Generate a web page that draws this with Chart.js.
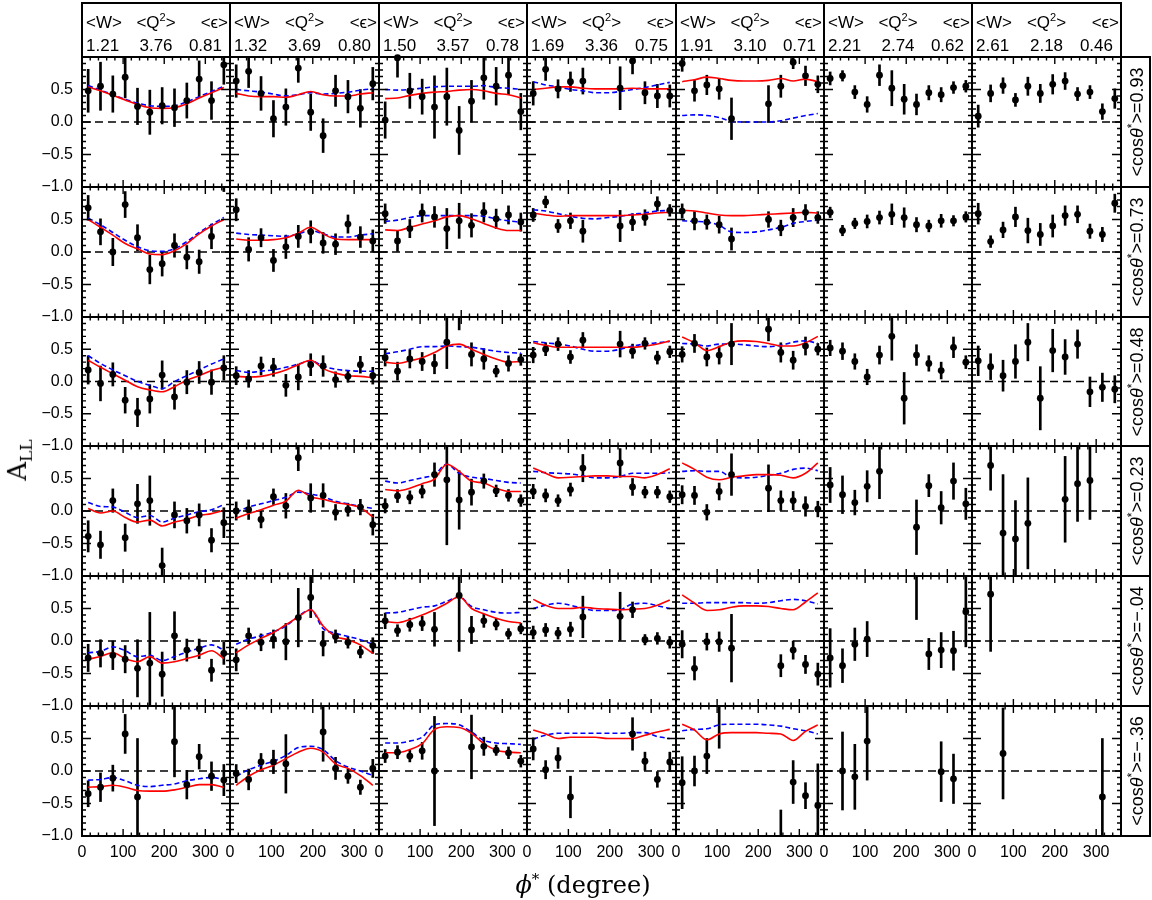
<!DOCTYPE html>
<html>
<head>
<meta charset="utf-8">
<script src="https://cdn.jsdelivr.net/npm/chart.js@4.4.0/dist/chart.umd.min.js"></script>
<style>
body { margin: 0; background: #fff; width: 1152px; height: 900px; position: relative; overflow: hidden;
       font-family: "Liberation Sans", Arial, sans-serif; color: #000; }
canvas { position: absolute; }
.hd { position: absolute; top: 2px; height: 56px; box-sizing: border-box; border: 2px solid #000; font-size: 17px; }
.hd > span { position: absolute; line-height: 18px; white-space: nowrap; }
.t1 { top: 10px; } .t2 { top: 33px; }
.l { left: 3px; } .m { left: 50%; transform: translateX(-50%); } .r { right: 1px; } .t2.r { right: 7px; }
.sq { position: relative; font-size: 11px; top: -7px; }
.rc { position: absolute; left: 1120px; width: 31px; box-sizing: border-box; border: 2px solid #000; }
.rt { position: absolute; left: 50%; top: 50%; transform: translate(-50%, -50%) rotate(-90deg); white-space: nowrap; font-size: 18px; }
.rt sup { font-size: 12px; }
.ttl { position: absolute; white-space: nowrap; font-family: "DejaVu Serif", "Liberation Serif", serif; font-size: 24px; }
</style>
</head>
<body>
<script>
var N = null;
var phiBins = [15, 45, 75, 105, 135, 165, 195, 225, 255, 285, 315, 345];
var meanW = ['1.21', '1.32', '1.50', '1.69', '1.91', '2.21', '2.61'];
var meanQ2 = ['3.76', '3.69', '3.57', '3.36', '3.10', '2.74', '2.18'];
var meanEps = ['0.81', '0.80', '0.78', '0.75', '0.71', '0.62', '0.46'];
var cosTheta = ['0.93', '0.73', '0.48', '0.23', '\u2212.04', '\u2212.36'];
var phiTicks = [0, 100, 200, 300];
var allTicks = [-1, -0.5, 0, 0.5, 1];

// <cos theta*> = 0.93
var asym093 = [
    [0.48, 0.55, 0.43, 0.69, 0.24, 0.15, 0.25, 0.22, 0.33, 0.66, 0.33, 0.88],
    [0.63, 0.78, 0.44, 0.05, 0.23, 0.83, 0.15, -0.21, 0.48, 0.39, 0.21, 0.59],
    [0.03, 0.99, 0.48, 0.39, 0.23, 0.39, -0.13, 0.32, 0.68, 0.55, 0.72, 0.16],
    [0.44, 0.81, 0.51, 0.62, 0.63, N, N, 0.52, 0.94, 0.45, 0.40, 0.40],
    [0.90, 0.48, 0.57, 0.51, 0.05, N, N, 0.28, 0.55, 0.92, 0.71, 0.58],
    [0.67, 0.71, 0.46, 0.27, 0.72, 0.52, 0.35, 0.27, 0.45, 0.42, 0.53, 0.55],
    [0.09, 0.44, 0.56, 0.34, 0.55, 0.44, 0.58, 0.63, 0.43, 0.46, 0.16, 0.36]
];
var err093 = [
    [0.33, 0.37, 0.28, 0.32, 0.28, 0.34, 0.28, 0.29, 0.27, 0.28, 0.29, 0.30],
    [0.25, 0.25, 0.26, 0.28, 0.28, 0.22, 0.28, 0.26, 0.24, 0.25, 0.29, 0.25],
    [0.28, 0.30, 0.27, 0.27, 0.48, 0.44, 0.37, 0.32, 0.33, 0.29, 0.30, 0.28],
    [0.18, 0.17, 0.14, 0.15, 0.20, N, N, 0.33, 0.20, 0.17, 0.18, 0.17],
    [0.12, 0.16, 0.15, 0.16, 0.32, N, N, 0.28, 0.17, 0.10, 0.15, 0.13],
    [0.10, 0.08, 0.10, 0.12, 0.16, 0.27, 0.23, 0.16, 0.11, 0.11, 0.09, 0.09],
    [0.17, 0.13, 0.12, 0.10, 0.14, 0.14, 0.15, 0.13, 0.10, 0.10, 0.12, 0.15]
];
var red093 = [
    [0.54, 0.48, 0.41, 0.34, 0.27, 0.22, 0.21, 0.22, 0.28, 0.37, 0.45, 0.53],
    [0.44, 0.40, 0.39, 0.39, 0.38, 0.42, 0.47, 0.42, 0.40, 0.40, 0.43, 0.45],
    [0.36, 0.37, 0.41, 0.44, 0.46, 0.47, 0.49, 0.50, 0.48, 0.44, 0.42, 0.37],
    [0.50, 0.52, 0.54, 0.54, 0.52, 0.51, 0.51, 0.51, 0.52, 0.51, 0.51, 0.51],
    [0.62, 0.65, 0.69, 0.67, 0.64, 0.63, 0.63, 0.64, 0.67, 0.63, 0.66, 0.62]
];
var blue093 = [
    [0.56, 0.49, 0.42, 0.35, 0.29, 0.25, 0.24, 0.25, 0.31, 0.39, 0.47, 0.55],
    [0.50, 0.48, 0.46, 0.43, 0.40, 0.42, 0.45, 0.43, 0.44, 0.46, 0.49, 0.51],
    [0.50, 0.49, 0.50, 0.52, 0.54, 0.55, 0.55, 0.55, 0.56, 0.53, 0.52, 0.50],
    [0.62, 0.57, 0.54, 0.50, 0.48, 0.45, 0.45, 0.47, 0.50, 0.53, 0.57, 0.61],
    [0.10, 0.11, 0.10, 0.07, 0.01, 0.00, 0.00, 0.00, 0.02, 0.06, 0.10, 0.13]
];

// <cos theta*> = 0.73
var asym073 = [
    [0.68, 0.31, 0.00, 0.73, 0.22, -0.27, -0.18, 0.10, -0.08, -0.15, 0.24, 1.15],
    [0.65, 0.04, 0.22, -0.13, 0.08, 0.24, 0.31, 0.14, 0.12, 0.43, 0.23, 0.17],
    [0.59, 0.17, 0.36, 0.60, 0.54, 0.36, 0.48, 0.41, 0.61, 0.51, 0.57, 0.46],
    [0.57, 0.77, 0.40, 0.48, 0.32, N, N, 0.40, 0.46, 0.53, 0.74, 0.64],
    [0.63, 0.48, 0.46, 0.42, 0.20, N, N, 0.50, 0.37, 0.53, 0.61, 0.53],
    [0.61, 0.33, 0.44, 0.47, 0.53, 0.58, 0.53, 0.42, 0.40, 0.48, 0.48, 0.54],
    [0.59, 0.16, 0.34, 0.54, 0.33, 0.27, 0.40, 0.56, 0.58, 0.32, 0.27, 0.75]
];
var err073 = [
    [0.19, 0.20, 0.21, 0.20, 0.20, 0.22, 0.19, 0.18, 0.18, 0.18, 0.19, 0.22],
    [0.17, 0.18, 0.14, 0.17, 0.18, 0.17, 0.17, 0.16, 0.16, 0.14, 0.16, 0.17],
    [0.15, 0.16, 0.14, 0.14, 0.16, 0.31, 0.27, 0.18, 0.15, 0.15, 0.14, 0.14],
    [0.10, 0.09, 0.10, 0.12, 0.17, N, N, 0.24, 0.13, 0.12, 0.11, 0.09],
    [0.11, 0.14, 0.11, 0.13, 0.17, N, N, 0.12, 0.12, 0.14, 0.12, 0.09],
    [0.08, 0.08, 0.08, 0.10, 0.10, 0.16, 0.15, 0.11, 0.09, 0.10, 0.08, 0.08],
    [0.16, 0.09, 0.12, 0.15, 0.19, 0.17, 0.17, 0.15, 0.13, 0.11, 0.11, 0.14]
];
var red073 = [
    [0.50, 0.38, 0.26, 0.13, 0.05, -0.03, -0.04, 0.02, 0.13, 0.28, 0.40, 0.50],
    [0.20, 0.18, 0.18, 0.19, 0.22, 0.29, 0.38, 0.28, 0.20, 0.19, 0.19, 0.19],
    [0.34, 0.33, 0.38, 0.43, 0.48, 0.54, 0.56, 0.51, 0.44, 0.37, 0.33, 0.33],
    [0.60, 0.57, 0.55, 0.56, 0.56, 0.56, 0.56, 0.56, 0.57, 0.58, 0.60, 0.61],
    [0.64, 0.63, 0.60, 0.57, 0.56, 0.56, 0.57, 0.58, 0.59, 0.60, 0.61, 0.60]
];
var blue073 = [
    [0.52, 0.42, 0.30, 0.18, 0.08, 0.02, 0.01, 0.05, 0.16, 0.30, 0.42, 0.53],
    [0.29, 0.27, 0.26, 0.25, 0.24, 0.28, 0.33, 0.28, 0.23, 0.23, 0.26, 0.28],
    [0.47, 0.49, 0.53, 0.56, 0.56, 0.56, 0.56, 0.56, 0.55, 0.51, 0.48, 0.46],
    [0.65, 0.63, 0.59, 0.55, 0.52, 0.51, 0.53, 0.55, 0.58, 0.60, 0.63, 0.64],
    [0.48, 0.47, 0.46, 0.41, 0.31, 0.30, 0.31, 0.34, 0.38, 0.44, 0.47, 0.49]
];

// <cos theta*> = 0.48
var asym048 = [
    [0.18, -0.03, 0.11, -0.29, -0.48, -0.27, 0.10, -0.24, -0.01, 0.14, -0.01, 0.21],
    [0.09, 0.04, 0.24, 0.22, -0.06, 0.07, 0.26, 0.24, 0.03, 0.08, 0.26, 0.09],
    [0.37, 0.16, 0.35, 0.31, 0.27, 0.61, 1.10, 0.42, 0.35, 0.16, 0.28, 0.34],
    [0.41, 0.50, 0.58, 0.38, 0.64, N, N, 0.58, 0.47, 0.59, 0.37, 0.46],
    [0.42, 0.59, 0.38, 0.41, 0.58, N, N, 0.81, 0.45, 0.33, 0.55, 0.50],
    [0.52, 0.47, 0.31, 0.07, 0.41, 0.70, -0.26, 0.41, 0.28, 0.17, 0.53, 0.30],
    [0.32, 0.23, 0.09, 0.31, 0.61, -0.26, 0.48, 0.38, 0.58, -0.16, -0.09, -0.12]
];
var err048 = [
    [0.22, 0.27, 0.18, 0.20, 0.22, 0.22, 0.22, 0.19, 0.18, 0.17, 0.19, 0.19],
    [0.14, 0.13, 0.14, 0.14, 0.17, 0.20, 0.17, 0.16, 0.12, 0.09, 0.13, 0.13],
    [0.13, 0.14, 0.14, 0.14, 0.15, 0.41, 0.30, 0.18, 0.16, 0.09, 0.12, 0.09],
    [0.12, 0.10, 0.10, 0.10, 0.12, N, N, 0.20, 0.11, 0.09, 0.10, 0.09],
    [0.12, 0.14, 0.14, 0.14, 0.32, N, N, 0.18, 0.15, 0.14, 0.14, 0.09],
    [0.12, 0.13, 0.12, 0.12, 0.14, 0.37, 0.40, 0.16, 0.12, 0.13, 0.16, 0.10],
    [0.23, 0.20, 0.24, 0.26, 0.29, 0.49, 0.33, 0.27, 0.22, 0.23, 0.22, 0.21]
];
var red048 = [
    [0.33, 0.22, 0.12, 0.02, -0.08, -0.13, -0.16, -0.08, 0.02, 0.09, 0.17, 0.22],
    [0.08, 0.07, 0.08, 0.12, 0.18, 0.26, 0.33, 0.20, 0.13, 0.09, 0.08, 0.06],
    [0.30, 0.28, 0.32, 0.37, 0.45, 0.55, 0.58, 0.50, 0.42, 0.35, 0.30, 0.31],
    [0.60, 0.56, 0.53, 0.53, 0.53, 0.53, 0.53, 0.53, 0.53, 0.55, 0.58, 0.63],
    [0.69, 0.60, 0.48, 0.54, 0.61, 0.63, 0.62, 0.59, 0.55, 0.55, 0.60, 0.70]
];
var blue048 = [
    [0.40, 0.28, 0.18, 0.09, 0.00, -0.06, -0.11, 0.00, 0.09, 0.18, 0.27, 0.35],
    [0.17, 0.14, 0.16, 0.18, 0.22, 0.27, 0.32, 0.24, 0.19, 0.17, 0.16, 0.16],
    [0.43, 0.46, 0.50, 0.54, 0.54, 0.55, 0.54, 0.53, 0.50, 0.47, 0.45, 0.44],
    [0.62, 0.60, 0.58, 0.55, 0.50, 0.47, 0.47, 0.50, 0.55, 0.58, 0.60, 0.62],
    [0.59, 0.58, 0.55, 0.58, 0.58, 0.57, 0.55, 0.54, 0.56, 0.61, 0.63, 0.59]
];

// <cos theta*> = 0.23
var asym023 = [
    [-0.39, -0.52, 0.16, -0.41, 0.11, 0.16, -0.84, -0.06, -0.15, -0.06, -0.45, -0.18],
    [0.00, 0.02, -0.13, 0.22, 0.08, 0.82, 0.20, 0.24, -0.02, 0.02, 0.06, -0.21],
    [0.08, 0.23, 0.21, 0.30, 0.56, 0.48, 0.17, 0.29, 0.46, 0.31, 0.24, 0.16],
    [0.30, 0.24, 0.16, 0.33, 0.66, N, N, 0.74, 0.37, 0.29, 0.29, 0.22],
    [0.25, 0.24, -0.02, 0.30, 0.56, N, N, 0.35, 0.16, 0.16, 0.07, 0.03],
    [0.40, 0.25, 0.13, 0.38, 0.61, N, N, -0.25, 0.39, 0.05, 0.46, 0.11],
    [N, 0.70, -0.34, -0.43, -0.19, N, N, 0.18, 0.42, 0.47, N, N]
];
var err023 = [
    [0.24, 0.21, 0.18, 0.21, 0.30, 0.38, 0.27, 0.20, 0.19, 0.17, 0.18, 0.23],
    [0.14, 0.15, 0.13, 0.12, 0.19, 0.20, 0.22, 0.18, 0.12, 0.10, 0.12, 0.16],
    [0.11, 0.10, 0.10, 0.10, 0.18, 1.00, 0.45, 0.20, 0.11, 0.09, 0.09, 0.09],
    [0.11, 0.10, 0.09, 0.10, 0.21, N, N, 0.22, 0.13, 0.09, 0.09, 0.09],
    [0.14, 0.14, 0.12, 0.13, 0.32, N, N, 0.36, 0.15, 0.14, 0.15, 0.12],
    [0.27, 0.29, 0.19, 0.24, 0.42, N, N, 0.42, 0.17, 0.25, 0.28, 0.24],
    [N, 0.38, 0.90, 0.59, 0.70, N, N, 0.66, 0.58, 0.60, N, N]
];
var red023 = [
    [0.04, -0.03, 0.00, -0.10, -0.17, -0.14, -0.23, -0.17, -0.13, -0.07, -0.04, 0.01],
    [-0.11, -0.04, 0.02, 0.09, 0.15, 0.32, 0.22, 0.18, 0.13, 0.10, 0.05, -0.09],
    [0.33, 0.31, 0.35, 0.42, 0.49, 0.72, 0.61, 0.46, 0.43, 0.35, 0.30, 0.30],
    [0.66, 0.58, 0.51, 0.52, 0.53, 0.54, 0.54, 0.53, 0.53, 0.51, 0.56, 0.65],
    [0.74, 0.64, 0.52, 0.48, 0.52, 0.54, 0.56, 0.56, 0.55, 0.51, 0.58, 0.74]
];
var blue023 = [
    [0.13, 0.07, 0.06, -0.02, -0.10, -0.07, -0.17, -0.11, -0.06, -0.01, 0.02, 0.10],
    [-0.02, 0.06, 0.11, 0.16, 0.21, 0.29, 0.26, 0.22, 0.15, 0.11, 0.07, 0.04],
    [0.46, 0.43, 0.47, 0.51, 0.56, 0.72, 0.58, 0.52, 0.50, 0.47, 0.44, 0.43],
    [0.61, 0.59, 0.58, 0.57, 0.54, 0.51, 0.51, 0.53, 0.58, 0.58, 0.58, 0.59],
    [0.61, 0.62, 0.61, 0.61, 0.52, 0.51, 0.52, 0.55, 0.58, 0.64, 0.66, 0.62]
];

// <cos theta*> = -.04
var asymM04 = [
    [-0.26, -0.19, -0.22, -0.28, -0.42, -0.34, -0.51, 0.08, -0.14, -0.12, -0.45, -0.19],
    [-0.29, 0.08, -0.02, 0.03, -0.01, 0.36, 0.67, -0.04, 0.07, -0.02, -0.17, -0.07],
    [0.31, 0.16, 0.25, 0.27, 0.18, N, 0.70, 0.17, 0.31, 0.26, 0.11, 0.19],
    [0.13, 0.17, 0.12, 0.18, 0.37, N, N, 0.38, 0.48, 0.02, 0.04, -0.02],
    [-0.05, -0.42, -0.01, -0.01, -0.11, N, N, N, -0.38, -0.14, -0.36, -0.51],
    [-0.26, -0.38, -0.05, 0.03, N, N, N, 1.15, -0.20, -0.14, -0.15, 0.45],
    [N, 0.72, N, N, N, N, N, N, N, N, N, N]
];
var errM04 = [
    [0.21, 0.21, 0.22, 0.21, 0.44, 0.78, 0.34, 0.37, 0.17, 0.15, 0.17, 0.17],
    [0.17, 0.12, 0.13, 0.14, 0.28, 0.45, 0.31, 0.19, 0.10, 0.09, 0.09, 0.12],
    [0.12, 0.09, 0.10, 0.11, 0.26, N, 0.86, 0.21, 0.10, 0.09, 0.08, 0.08],
    [0.10, 0.10, 0.09, 0.11, 0.32, N, N, 0.37, 0.12, 0.08, 0.09, 0.09],
    [0.21, 0.18, 0.13, 0.15, 0.52, N, N, N, 0.17, 0.14, 0.14, 0.17],
    [0.45, 0.26, 0.25, 0.27, N, N, N, 0.82, 0.24, 0.27, 0.30, 0.54],
    [N, 0.88, N, N, N, N, N, N, N, N, N, N]
];
var redM04 = [
    [-0.28, -0.24, -0.18, -0.27, -0.32, -0.24, -0.34, -0.32, -0.27, -0.22, -0.15, -0.27],
    [-0.18, -0.06, 0.04, 0.13, 0.25, 0.37, 0.48, 0.23, 0.07, 0.02, -0.06, -0.19],
    [0.30, 0.28, 0.33, 0.40, 0.48, 0.58, 0.68, 0.50, 0.42, 0.35, 0.30, 0.28],
    [0.64, 0.55, 0.50, 0.50, 0.52, 0.50, 0.49, 0.48, 0.49, 0.50, 0.55, 0.63],
    [0.71, 0.58, 0.47, 0.48, 0.52, 0.54, 0.54, 0.53, 0.50, 0.48, 0.60, 0.74]
];
var blueM04 = [
    [-0.18, -0.16, -0.09, -0.15, -0.24, -0.22, -0.30, -0.24, -0.17, -0.11, -0.06, -0.14],
    [-0.05, 0.03, 0.08, 0.14, 0.23, 0.38, 0.48, 0.19, 0.12, 0.07, 0.02, -0.05],
    [0.43, 0.44, 0.48, 0.52, 0.54, 0.61, 0.68, 0.53, 0.48, 0.44, 0.43, 0.44],
    [0.50, 0.55, 0.58, 0.55, 0.50, 0.47, 0.47, 0.48, 0.57, 0.58, 0.54, 0.50],
    [0.58, 0.58, 0.59, 0.59, 0.59, 0.59, 0.58, 0.59, 0.62, 0.64, 0.62, 0.57]
];

// <cos theta*> = -.36
var asymM36 = [
    [-0.35, -0.25, -0.11, 0.57, -0.40, N, N, 0.45, -0.21, 0.22, -0.08, -0.14],
    [-0.04, -0.13, 0.14, 0.14, 0.11, N, N, 0.60, 0.04, -0.08, -0.25, 0.04],
    [0.23, 0.29, 0.23, 0.31, 0.00, N, N, 0.37, 0.38, 0.32, 0.28, 0.15],
    [0.34, 0.02, 0.20, -0.40, N, N, N, N, 0.57, 0.15, -0.13, 0.14],
    [-0.18, 0.00, 0.23, 1.15, N, N, N, N, -1.10, -0.17, -0.38, -0.53],
    [N, 0.00, -0.09, 0.46, N, N, N, N, N, -0.01, -0.12, N],
    [N, N, 0.27, N, N, N, N, N, N, N, -0.40, N]
];
var errM36 = [
    [0.20, 0.22, 0.20, 0.30, 0.90, N, N, 0.54, 0.22, 0.19, 0.22, 0.24],
    [0.14, 0.16, 0.13, 0.18, 0.45, N, N, 0.45, 0.17, 0.11, 0.11, 0.14],
    [0.10, 0.10, 0.09, 0.13, 0.84, N, N, 0.49, 0.14, 0.08, 0.09, 0.09],
    [0.17, 0.14, 0.16, 0.32, N, N, N, N, 0.25, 0.14, 0.12, 0.15],
    [0.40, 0.23, 0.27, 0.80, N, N, N, N, 0.50, 0.33, 0.20, 0.64],
    [N, 0.60, 0.50, 0.60, N, N, N, N, N, 0.46, 0.38, N],
    [N, N, 0.70, N, N, N, N, N, N, N, 0.90, N]
];
var redM36 = [
    [-0.25, -0.24, -0.22, -0.25, -0.30, -0.31, -0.31, -0.29, -0.25, -0.21, -0.21, -0.25],
    [-0.22, -0.08, 0.02, 0.09, 0.19, 0.29, 0.35, 0.29, 0.11, 0.04, -0.07, -0.22],
    [0.28, 0.28, 0.33, 0.42, 0.64, 0.68, 0.67, 0.58, 0.42, 0.32, 0.29, 0.28],
    [0.63, 0.57, 0.50, 0.52, 0.52, 0.52, 0.50, 0.50, 0.50, 0.55, 0.60, 0.64],
    [0.72, 0.63, 0.48, 0.57, 0.59, 0.59, 0.59, 0.58, 0.57, 0.47, 0.61, 0.71]
];
var blueM36 = [
    [-0.14, -0.13, -0.10, -0.15, -0.22, -0.24, -0.22, -0.20, -0.15, -0.12, -0.10, -0.13],
    [-0.08, 0.02, 0.09, 0.15, 0.24, 0.36, 0.38, 0.33, 0.16, 0.06, 0.00, -0.07],
    [0.43, 0.43, 0.46, 0.52, 0.71, 0.73, 0.71, 0.60, 0.47, 0.43, 0.42, 0.41],
    [0.49, 0.55, 0.58, 0.58, 0.58, 0.58, 0.58, 0.58, 0.59, 0.59, 0.53, 0.50],
    [0.62, 0.64, 0.65, 0.71, 0.72, 0.72, 0.72, 0.71, 0.69, 0.65, 0.62, 0.57]
];

var asymRows = [asym093, asym073, asym048, asym023, asymM04, asymM36];
var errRows = [err093, err073, err048, err023, errM04, errM36];
var redRows = [red093, red073, red048, red023, redM04, redM36];
var blueRows = [blue093, blue073, blue048, blue023, blueM04, blueM36];

// page geometry of the panel grid
var colLeft = [82, 230, 379, 527, 676, 824, 972, 1121];
var rowTop = [57, 187, 317, 446, 576, 706, 836];

Chart.defaults.font.family = '"Liberation Sans", Arial, sans-serif';
Chart.defaults.color = '#000';

var frameTicks = {
    id: 'frameTicks',
    afterDatasetsDraw: function(chart) {
        var ctx = chart.ctx, a = chart.chartArea;
        var xs = chart.scales.x, ys = chart.scales.y;
        ctx.save();
        ctx.strokeStyle = '#000';
        ctx.lineWidth = 1.4;
        ctx.beginPath();
        for (var v = 20; v < 360; v += 20) {
            var px = xs.getPixelForValue(v);
            var len = v % 100 === 0 ? 7 : 3.5;
            ctx.moveTo(px, a.top); ctx.lineTo(px, a.top + len);
            ctx.moveTo(px, a.bottom); ctx.lineTo(px, a.bottom - len);
        }
        for (var k = -9; k <= 9; k++) {
            var py = ys.getPixelForValue(k / 10);
            var l2 = k % 5 === 0 ? 9 : 4;
            ctx.moveTo(a.left, py); ctx.lineTo(a.left + l2, py);
            ctx.moveTo(a.right, py); ctx.lineTo(a.right - l2, py);
        }
        ctx.stroke();
        ctx.lineWidth = 2;
        ctx.strokeRect(a.left, a.top, a.right - a.left, a.bottom - a.top);
        ctx.restore();
    }
};

function curvePoints(vals) {
    var out = [];
    for (var i = 0; i < phiBins.length; i++) out.push({x: phiBins[i], y: vals[i]});
    return out;
}

function makePanel(r, c) {
    var vals = asymRows[r][c], errs = errRows[r][c];
    var pts = [], bars = [];
    for (var i = 0; i < phiBins.length; i++) {
        if (vals[i] === null) continue;
        pts.push({x: phiBins[i], y: vals[i]});
        bars.push({x: phiBins[i], y: [vals[i] - errs[i], vals[i] + errs[i]]});
    }

    var datasets = [
        {type: 'line', data: [{x: 0, y: 0}, {x: 360, y: 0}], borderColor: '#000', borderWidth: 1.3,
         borderDash: [8, 5], pointRadius: 0, order: 5, clip: 0},
        {type: 'bar', data: bars, backgroundColor: '#000', barThickness: 2, borderWidth: 0, order: 4, clip: 0}
    ];
    if (c < 5) {
        datasets.push({type: 'line', data: curvePoints(blueRows[r][c]), borderColor: '#0000ff', borderWidth: 1.6,
                       borderDash: [5, 3], pointRadius: 0, cubicInterpolationMode: 'monotone', order: 3, clip: 0});
        datasets.push({type: 'line', data: curvePoints(redRows[r][c]), borderColor: '#ff0000', borderWidth: 1.6,
                       pointRadius: 0, cubicInterpolationMode: 'monotone', order: 2, clip: 0});
    }
    datasets.push({type: 'scatter', data: pts, backgroundColor: '#000', borderWidth: 0, pointRadius: 3.4, order: 1, clip: 3});

    var padL = c === 0 ? 82 : 14, padR = 14, padT = 20;
    var padB = r === 5 ? 46 : 20;
    var w = colLeft[c + 1] - colLeft[c] + padL + padR;
    var h = rowTop[r + 1] - rowTop[r] + padT + padB;
    var cv = document.createElement('canvas');
    cv.width = w; cv.height = h;
    cv.style.width = w + 'px'; cv.style.height = h + 'px';
    cv.style.left = (colLeft[c] - padL) + 'px';
    cv.style.top = (rowTop[r] - padT) + 'px';
    document.body.appendChild(cv);

    var chart = new Chart(cv.getContext('2d'), {
        type: 'scatter',
        data: {datasets: datasets},
        options: {
            responsive: false,
            animation: false,
            events: [],
            layout: {padding: {left: c === 0 ? 10 : 14, right: 14, top: 20, bottom: r === 5 ? 0 : 20}},
            plugins: {legend: {display: false}, tooltip: {enabled: false}},
            scales: {
                x: {
                    type: 'linear', min: 0, max: 360, offset: false, display: r === 5,
                    grid: {display: false, drawTicks: false}, border: {display: false},
                    afterBuildTicks: function(s) { s.ticks = phiTicks.map(function(v) { return {value: v}; }); },
                    afterFit: function(s) { if (r === 5) s.height = 46; },
                    ticks: {padding: 7, font: {size: 16}, color: '#000', maxRotation: 0, autoSkip: false}
                },
                y: {
                    type: 'linear', min: -1, max: 1, display: c === 0,
                    grid: {display: false, drawTicks: false}, border: {display: false},
                    afterBuildTicks: function(s) { s.ticks = allTicks.map(function(v) { return {value: v}; }); },
                    afterFit: function(s) { if (c === 0) s.width = 72; },
                    ticks: {
                        padding: 9, font: {size: 16}, color: '#000', autoSkip: false,
                        callback: function(v) {
                            if (v === 1) return '';
                            return (v < 0 ? '\u2212' : '') + Math.abs(v).toFixed(1);
                        }
                    }
                }
            }
        },
        plugins: [frameTicks]
    });

    // keep the plot area on the grid even if the layout moved it
    var a = chart.chartArea;
    cv.style.left = (colLeft[c] - a.left) + 'px';
    cv.style.top = (rowTop[r] - a.top) + 'px';
}

for (var r = 0; r < 6; r++) {
    for (var c = 0; c < 7; c++) makePanel(r, c);
}

for (var c = 0; c < 7; c++) {
    var hd = document.createElement('div');
    hd.className = 'hd';
    hd.style.left = (colLeft[c] - 1) + 'px';
    hd.style.width = (colLeft[c + 1] - colLeft[c] + 2) + 'px';
    hd.innerHTML =
        '<span class="l t1">&lt;W&gt;</span>' +
        '<span class="m t1">&lt;Q<span class="sq">2</span>&gt;</span>' +
        '<span class="r t1">&lt;\u03f5&gt;</span>' +
        '<span class="l t2">' + meanW[c] + '</span>' +
        '<span class="m t2">' + meanQ2[c] + '</span>' +
        '<span class="r t2">' + meanEps[c] + '</span>';
    document.body.appendChild(hd);
}

for (var r = 0; r < 6; r++) {
    var rc = document.createElement('div');
    rc.className = 'rc';
    rc.style.top = (rowTop[r] - 1) + 'px';
    rc.style.height = (rowTop[r + 1] - rowTop[r] + 2) + 'px';
    rc.innerHTML = '<div class="rt">&lt;cos<i>\u03b8</i><sup>*</sup>&gt;=' + cosTheta[r] + '</div>';
    document.body.appendChild(rc);
}

var yTitle = document.createElement('div');
yTitle.className = 'ttl';
yTitle.style.left = '19px'; yTitle.style.top = '460px';
yTitle.style.transform = 'translate(-50%, -50%) rotate(-90deg)';
yTitle.style.fontSize = '26px';
yTitle.innerHTML = 'A<sub style="font-size:17px">LL</sub>';
document.body.appendChild(yTitle);

var xTitle = document.createElement('div');
xTitle.className = 'ttl';
xTitle.style.left = '583px'; xTitle.style.top = '884px';
xTitle.style.transform = 'translate(-50%, -50%)';
xTitle.innerHTML = '<i>\u03d5</i><sup style="font-size:15px">*</sup> (degree)';
document.body.appendChild(xTitle);
</script>
</body>
</html>
